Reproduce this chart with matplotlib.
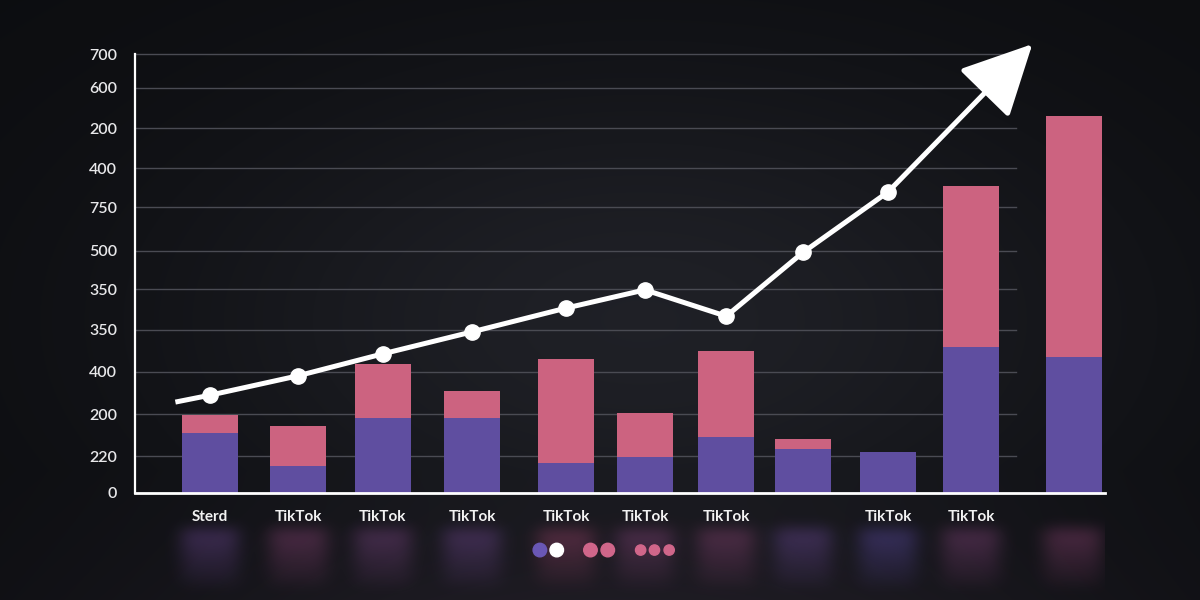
import numpy as np
import matplotlib.pyplot as plt

plt.rcParams['font.family'] = ['Lato', 'DejaVu Sans']

# categories (bar centres along the x axis) and labels
x_pos = [0.0, 1.02, 2.0, 3.03, 4.12, 5.03, 5.97, 6.86, 7.84, 8.8, 9.99]
x_labels = ['Sterd', 'TikTok', 'TikTok', 'TikTok', 'TikTok', 'TikTok', 'TikTok', '',
            'TikTok', 'TikTok', '']

# stacked bars: purple base and pink top
purple = [96, 43, 120, 120, 48, 57, 89, 70, 65, 233, 217]
pink = [28, 64, 86, 43, 166, 71, 137, 16, 0, 257, 384]

# trend line (first point has no marker), arrow tip at the end
line_x = [-0.40, 0.0, 1.02, 2.0, 3.03, 4.12, 5.03, 5.97, 6.86, 7.84]
line_y = [145, 156, 187, 222, 257, 295, 324, 282, 384, 480]
arrow_tip = (9.51, 716)

# y axis ticks and their (printed) labels
y_ticks = [0, 59, 126, 193, 260, 325, 386, 456, 518, 582, 646, 700]
y_labels = ['0', '220', '200', '400', '350', '350', '500', '750', '400', '200', '600', '700']

# decorative dots under the chart
dot_x = [3.815, 4.01, 4.40, 4.60, 4.98, 5.14, 5.31]
dot_colors = ['#6a57b5', '#ffffff', '#d0668a', '#d0668a', '#d0668a', '#d0668a', '#d0668a']
dot_sizes = [95, 95, 95, 95, 55, 55, 55]

PURPLE = '#5f4ea0'
PINK = '#cc6380'

fig = plt.figure(figsize=(12, 6), dpi=100)
fig.patch.set_facecolor('#121318')

# background gradient
bg = fig.add_axes([0, 0, 1, 1], zorder=-10)
yy, xx = np.mgrid[0:600, 0:1200]
glow = np.exp(-(((xx - 640) / 480.0) ** 2 + ((yy - 320) / 260.0) ** 2))
floor = np.clip((yy - 470) / 130.0, 0, 1) * np.exp(-((xx - 620) / 520.0) ** 2)
dark = np.array([0.047, 0.051, 0.063])
light = np.array([0.122, 0.126, 0.15])
floor_col = np.array([0.15, 0.13, 0.17])
img = dark + (light - dark) * glow[..., None]
img = img + (floor_col - img) * (0.6 * floor[..., None])
bg.imshow(np.clip(img, 0, 1), extent=[0, 1200, 600, 0], aspect='auto')
bg.set_axis_off()

ax = fig.add_axes([135 / 1200, 107 / 600, 970 / 1200, 463 / 600])
ax.set_facecolor('none')

# grid lines (stop short of the last bar)
for t in y_ticks[1:]:
    ax.plot([-0.867, 9.32], [t, t], color='#4a4b53', lw=1, zorder=1)

width = 0.65
ax.bar(x_pos, purple, width=width, color=PURPLE, zorder=2)
ax.bar(x_pos, pink, width=width, bottom=purple, color=PINK, zorder=2)

# blurred reflections under the labels
rx0, rx1, ry0, ry1 = -0.867, 10.35, -185.0, -30.0
nx, ny = 970, 100
gx = np.linspace(rx0, rx1, nx)
gy = np.linspace(ry0, ry1, ny)
refl = np.zeros((ny, nx, 4))
purple_rgb = np.array([0x6a, 0x55, 0xc0]) / 255
red_rgb = np.array([0xc0, 0x45, 0x60]) / 255
for x, p, k in zip(x_pos, purple, pink):
    w = p / (p + k)
    col = purple_rgb * w + red_rgb * (1 - w)
    mx = (gx > x - width * 0.5) & (gx < x + width * 0.5)
    my = (gy > -150) & (gy < -58)
    fade = np.clip((gy - (-165)) / 100.0, 0, 1)
    m = my[:, None] & mx[None, :]
    refl[m, :3] = col
    refl[..., 3] = np.maximum(refl[..., 3], m * fade[:, None])

def blur(a, sx, sy):
    kx = np.exp(-0.5 * (np.arange(-3 * sx, 3 * sx + 1) / sx) ** 2)
    ky = np.exp(-0.5 * (np.arange(-3 * sy, 3 * sy + 1) / sy) ** 2)
    kx /= kx.sum()
    ky /= ky.sum()
    a = np.apply_along_axis(lambda r: np.convolve(r, kx, mode='same'), 1, a)
    return np.apply_along_axis(lambda c: np.convolve(c, ky, mode='same'), 0, a)

alpha = blur(refl[..., 3], 9, 7)
rgb = np.stack([blur(refl[..., i] * refl[..., 3], 9, 7) for i in range(3)], axis=-1)
rgb = rgb / np.maximum(alpha[..., None], 1e-6)
refl_img = np.dstack([np.clip(rgb, 0, 1), 0.38 * alpha])
ax.imshow(refl_img, extent=[rx0, rx1, ry0, ry1], origin='lower', aspect='auto',
          clip_on=False, zorder=1)
ax.set_xlim(-0.867, 10.35)
ax.set_ylim(0, 738.5)

# trend line with arrow
ax.plot(line_x, line_y, color='white', lw=3.6, zorder=4, solid_capstyle='butt')
ax.plot(line_x[1:], line_y[1:], 'o', color='white', ms=11, zorder=5)
ax.annotate('', xy=arrow_tip, xytext=(line_x[-1], line_y[-1]),
            arrowprops=dict(arrowstyle='-|>,head_length=1.0,head_width=0.5',
                            mutation_scale=44, color='white', lw=3.6,
                            shrinkA=0, shrinkB=0), zorder=5)

ax.scatter(dot_x, [-91] * len(dot_x), s=dot_sizes, c=dot_colors, clip_on=False, zorder=3)

# axes
for s in ['top', 'right']:
    ax.spines[s].set_visible(False)
ax.spines['left'].set_color('white')
ax.spines['left'].set_linewidth(1.6)
ax.spines['left'].set_bounds(0, 700)
ax.spines['bottom'].set_color('white')
ax.spines['bottom'].set_linewidth(2)
ax.spines['bottom'].set_zorder(6)

ax.set_yticks(y_ticks)
ax.set_yticklabels(y_labels, fontsize=11.5, color='#e8e8ea', fontweight='semibold')
ax.tick_params(axis='y', length=0, pad=13)
ax.set_xticks(x_pos)
ax.set_xticklabels(x_labels, fontsize=11, color='#f2f2f2', fontweight='bold')
ax.tick_params(axis='x', length=0, pad=12)

fig.savefig('out.png', dpi=100, facecolor=fig.get_facecolor())
